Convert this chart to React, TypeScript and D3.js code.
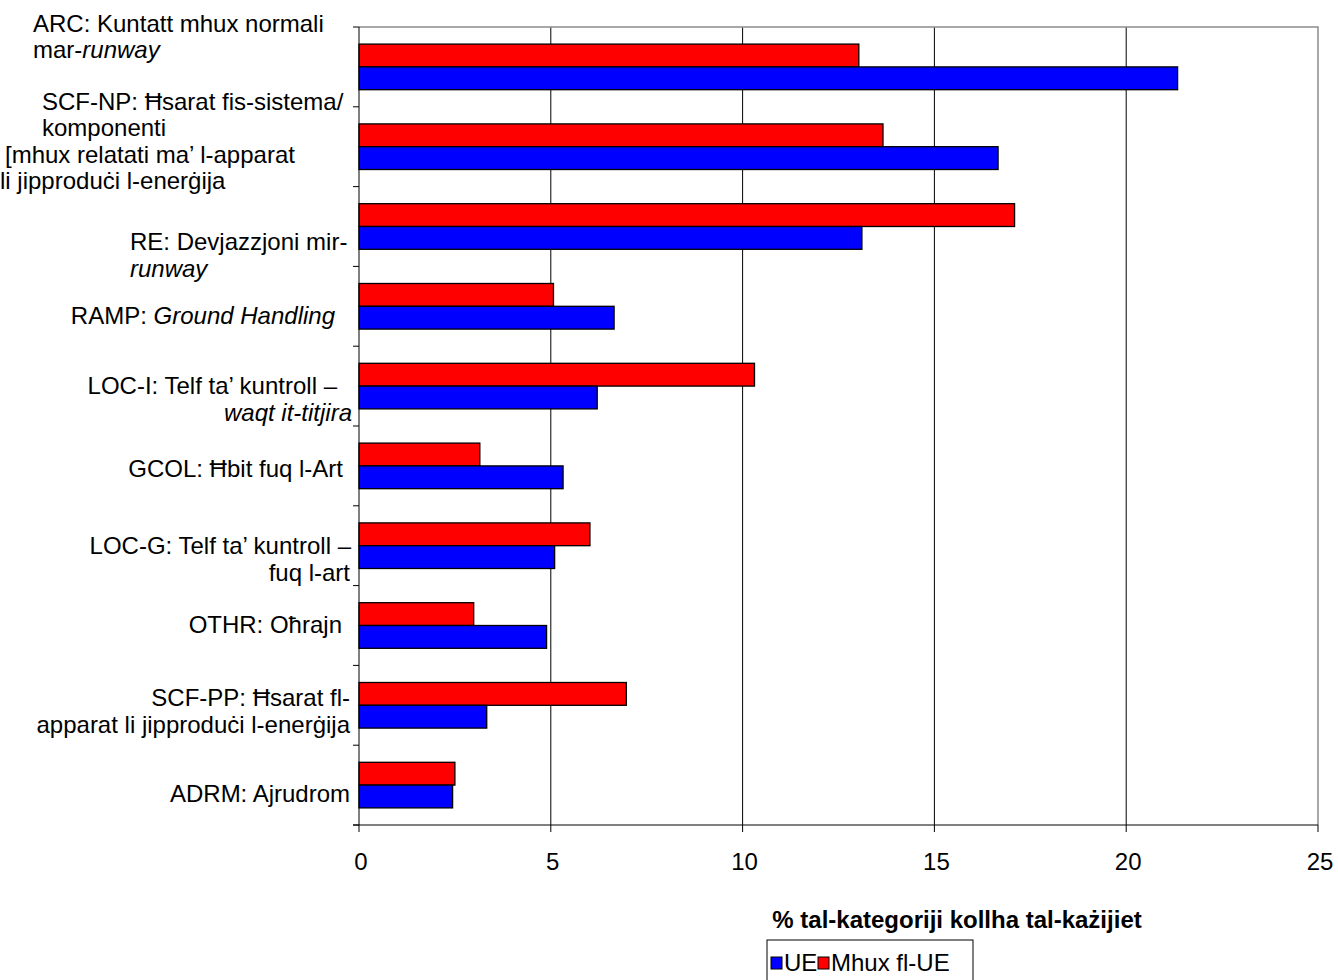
import { useEffect, useRef } from 'react';
import * as d3 from 'd3';

// incident categories, top to bottom
const categories = ['ARC', 'SCF-NP', 'RE', 'RAMP', 'LOC-I', 'GCOL', 'LOC-G', 'OTHR', 'SCF-PP', 'ADRM'];

// % of all accidents, per category
const euValues = [21.34, 16.66, 13.11, 6.65, 6.21, 5.32, 5.1, 4.89, 3.33, 2.44];
const nonEuValues = [13.03, 13.66, 17.09, 5.07, 10.31, 3.15, 6.02, 2.99, 6.97, 2.5];

const seriesNames = ['UE', 'Mhux fl-UE'];
const xTicks = [0, 5, 10, 15, 20, 25];
const xTitle = '% tal-kategoriji kollha tal-każijiet';

// category label text, line by line; i = italic piece
type Seg = { t: string; i?: boolean };
const labelLines: Seg[][][] = [
	[[{ t: 'ARC: Kuntatt mhux normali' }], [{ t: 'mar-' }, { t: 'runway', i: true }]],
	[
		[{ t: 'SCF-NP: Ħsarat fis-sistema/' }],
		[{ t: 'komponenti' }],
		[{ t: '[mhux relatati ma’ l-apparat' }],
		[{ t: 'li jipproduċi l-enerġija' }],
	],
	[[{ t: 'RE: Devjazzjoni mir-' }], [{ t: 'runway', i: true }]],
	[[{ t: 'RAMP: ' }, { t: 'Ground Handling', i: true }]],
	[[{ t: 'LOC-I: Telf ta’ kuntroll –' }], [{ t: 'waqt it-titjira', i: true }]],
	[[{ t: 'GCOL: Ħbit fuq l-Art' }]],
	[[{ t: 'LOC-G: Telf ta’ kuntroll –' }], [{ t: 'fuq l-art' }]],
	[[{ t: 'OTHR: Oħrajn' }]],
	[[{ t: 'SCF-PP: Ħsarat fl-' }], [{ t: 'apparat li jipproduċi l-enerġija' }]],
	[[{ t: 'ADRM: Ajrudrom' }]],
];

// how each label block sits: anchor, x per line, first baseline offset from band centre
const labelLayout = [
	{ anchor: 'start', xs: [33, 33], dy: -35 },
	{ anchor: 'start', xs: [42, 42, 5, 0], dy: -37 },
	{ anchor: 'start', xs: [130, 130], dy: 23.5 },
	{ anchor: 'end', xs: [335], dy: 17.5 },
	{ anchor: 'end', xs: [337, 352], dy: 8 },
	{ anchor: 'end', xs: [343], dy: 11 },
	{ anchor: 'end', xs: [351, 350], dy: 8.3 },
	{ anchor: 'end', xs: [342], dy: 7.5 },
	{ anchor: 'end', xs: [350, 350], dy: 0.7 },
	{ anchor: 'end', xs: [350], dy: 17 },
];

const FONT = '"Liberation Sans", Arial, sans-serif';
const FS = '24px';

export default function App() {
	const ref = useRef<SVGSVGElement | null>(null);

	useEffect(() => {
		if (!ref.current) return;
		const svg = d3.select(ref.current);
		svg.selectAll('*').remove();

		const left = 359;
		const right = 1318;
		const top = 27;
		const bottom = 825;

		const x = d3.scaleLinear().domain([0, 25]).range([left, right]);
		const y = d3.scaleBand<string>().domain(categories).range([top, bottom]);
		const sub = d3
			.scaleBand<string>()
			.domain(['nonEu', 'eu'])
			.range([0, y.bandwidth()])
			.paddingOuter(0.75);

		// vertical gridlines
		svg
			.append('g')
			.selectAll('line')
			.data(xTicks.slice(1, -1))
			.join('line')
			.attr('x1', d => x(d))
			.attr('x2', d => x(d))
			.attr('y1', top)
			.attr('y2', bottom)
			.attr('stroke', '#000')
			.attr('stroke-width', 1);

		// top and right border
		svg
			.append('path')
			.attr('d', `M${left},${top}H${right}V${bottom}`)
			.attr('fill', 'none')
			.attr('stroke', '#8c8c8c')
			.attr('stroke-width', 1.5);

		// bars
		const rows = categories.map((c, i) => ({ c, eu: euValues[i], nonEu: nonEuValues[i] }));
		const g = svg
			.append('g')
			.selectAll('g')
			.data(rows)
			.join('g')
			.attr('transform', d => `translate(0,${y(d.c)})`);

		g.append('rect')
			.attr('x', x(0))
			.attr('y', sub('nonEu')!)
			.attr('width', d => x(d.nonEu) - x(0))
			.attr('height', sub.bandwidth())
			.attr('fill', '#ff0000')
			.attr('stroke', '#000')
			.attr('stroke-width', 1.3);

		g.append('rect')
			.attr('x', x(0))
			.attr('y', sub('eu')!)
			.attr('width', d => x(d.eu) - x(0))
			.attr('height', sub.bandwidth())
			.attr('fill', '#0000ff')
			.attr('stroke', '#000')
			.attr('stroke-width', 1.3);

		// left axis
		const yBounds = categories.map(c => y(c)!).concat([bottom]);
		svg
			.append('line')
			.attr('x1', left)
			.attr('x2', left)
			.attr('y1', top)
			.attr('y2', bottom)
			.attr('stroke', '#000');
		svg
			.append('g')
			.selectAll('line')
			.data(yBounds)
			.join('line')
			.attr('x1', left - 6)
			.attr('x2', left)
			.attr('y1', d => d)
			.attr('y2', d => d)
			.attr('stroke', '#000');

		// bottom axis
		svg
			.append('line')
			.attr('x1', left - 6)
			.attr('x2', right)
			.attr('y1', bottom)
			.attr('y2', bottom)
			.attr('stroke', '#000');
		svg
			.append('g')
			.selectAll('line')
			.data(xTicks)
			.join('line')
			.attr('x1', d => x(d))
			.attr('x2', d => x(d))
			.attr('y1', bottom)
			.attr('y2', bottom + 7)
			.attr('stroke', '#000');
		svg
			.append('g')
			.selectAll('text')
			.data(xTicks)
			.join('text')
			.attr('x', d => x(d) + 2)
			.attr('y', 870)
			.attr('text-anchor', 'middle')
			.style('font-family', FONT)
			.style('font-size', FS)
			.text(d => d);

		// axis title
		svg
			.append('text')
			.attr('x', 957)
			.attr('y', 928)
			.attr('text-anchor', 'middle')
			.style('font-family', FONT)
			.style('font-size', FS)
			.style('font-weight', 'bold')
			.text(xTitle);

		// category labels
		categories.forEach((c, k) => {
			const lay = labelLayout[k];
			const cy = y(c)! + y.bandwidth() / 2 + lay.dy;
			labelLines[k].forEach((segs, li) => {
				const t = svg
					.append('text')
					.attr('x', lay.xs[li])
					.attr('y', cy + li * 26.5)
					.attr('text-anchor', lay.anchor)
					.style('font-family', FONT)
					.style('font-size', FS);
				segs.forEach(s => {
					t.append('tspan')
						.style('font-style', s.i ? 'italic' : 'normal')
						.text(s.t);
				});
			});
		});

		// legend
		const lg = svg.append('g');
		lg.append('rect')
			.attr('x', 767)
			.attr('y', 940)
			.attr('width', 206)
			.attr('height', 50)
			.attr('fill', '#fff')
			.attr('stroke', '#000');
		const legendColors = ['#0000ff', '#ff0000'];
		const legendX = [771, 818];
		seriesNames.forEach((name, i) => {
			lg.append('rect')
				.attr('x', legendX[i])
				.attr('y', 957)
				.attr('width', 11)
				.attr('height', 12)
				.attr('fill', legendColors[i])
				.attr('stroke', '#000');
			lg.append('text')
				.attr('x', legendX[i] + 13)
				.attr('y', 971)
				.style('font-family', FONT)
				.style('font-size', FS)
				.text(name);
		});
	}, []);

	return (
		<svg
			ref={ref}
			width={1338}
			height={980}
			style={{ position: 'absolute', left: 0, top: 0, background: '#fff' }}
		/>
	);
}
